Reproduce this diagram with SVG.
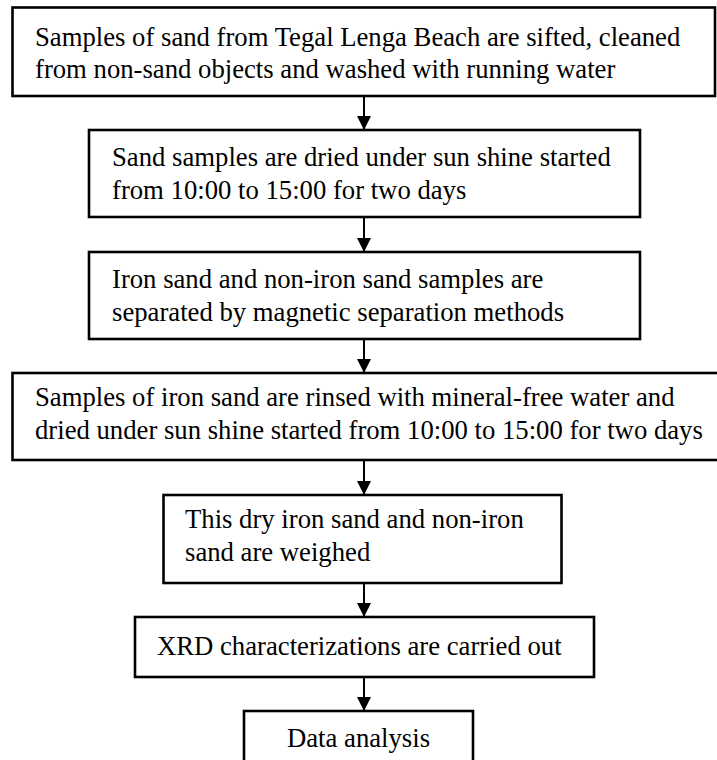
<svg xmlns="http://www.w3.org/2000/svg" width="717" height="760" viewBox="0 0 717 760">
<defs>
<style>
.box{fill:#fff;stroke:#000;stroke-width:2.6}
.t{font-family:'Liberation Serif','Times New Roman','DejaVu Serif',serif;font-size:26.7px;fill:#000}
.c{stroke:#000;stroke-width:2;fill:none}
</style>
<marker id="ah" markerWidth="15" markerHeight="14" refX="14" refY="7" orient="auto" markerUnits="userSpaceOnUse">
<path d="M0,0 L14,7 L0,14 Z" fill="#000"/>
</marker>
</defs>
<rect width="717" height="760" fill="#fff"/>
<g id="connectors">
<line class="c" x1="364" y1="96" x2="364" y2="130" marker-end="url(#ah)"/>
<line class="c" x1="364" y1="217" x2="364" y2="252" marker-end="url(#ah)"/>
<line class="c" x1="364" y1="339" x2="364" y2="373" marker-end="url(#ah)"/>
<line class="c" x1="364" y1="460" x2="364" y2="495" marker-end="url(#ah)"/>
<line class="c" x1="364" y1="583" x2="364" y2="617" marker-end="url(#ah)"/>
<line class="c" x1="364" y1="677" x2="364" y2="711" marker-end="url(#ah)"/>
</g>
<g id="n1"><rect class="box" x="12.5" y="7.5" width="702.5" height="88.5"/>
<text class="t" x="35" y="46">Samples of sand from Tegal Lenga Beach are sifted, cleaned</text>
<text class="t" x="35" y="78">from non-sand objects and washed with running water</text></g>
<g id="n2"><rect class="box" x="89" y="130" width="551" height="87"/>
<text class="t" x="112" y="166">Sand samples are dried under sun shine started</text>
<text class="t" x="112" y="199">from 10:00 to 15:00 for two days</text></g>
<g id="n3"><rect class="box" x="89" y="252" width="551" height="87"/>
<text class="t" x="112" y="288">Iron sand and non-iron sand samples are</text>
<text class="t" x="112" y="321">separated by magnetic separation methods</text></g>
<g id="n4"><rect class="box" x="12.5" y="373" width="706" height="87"/>
<text class="t" x="35" y="406">Samples of iron sand are rinsed with mineral-free water and</text>
<text class="t" x="35" y="439">dried under sun shine started from 10:00 to 15:00 for two days</text></g>
<g id="n5"><rect class="box" x="163.5" y="495" width="398" height="88"/>
<text class="t" x="185" y="528">This dry iron sand and non-iron</text>
<text class="t" x="185" y="561">sand are weighed</text></g>
<g id="n6"><rect class="box" x="135" y="617" width="459" height="60"/>
<text class="t" x="157" y="655">XRD characterizations are carried out</text></g>
<g id="n7"><rect class="box" x="244" y="711" width="229" height="60"/>
<text class="t" x="358.5" y="747" text-anchor="middle">Data analysis</text></g>
</svg>
